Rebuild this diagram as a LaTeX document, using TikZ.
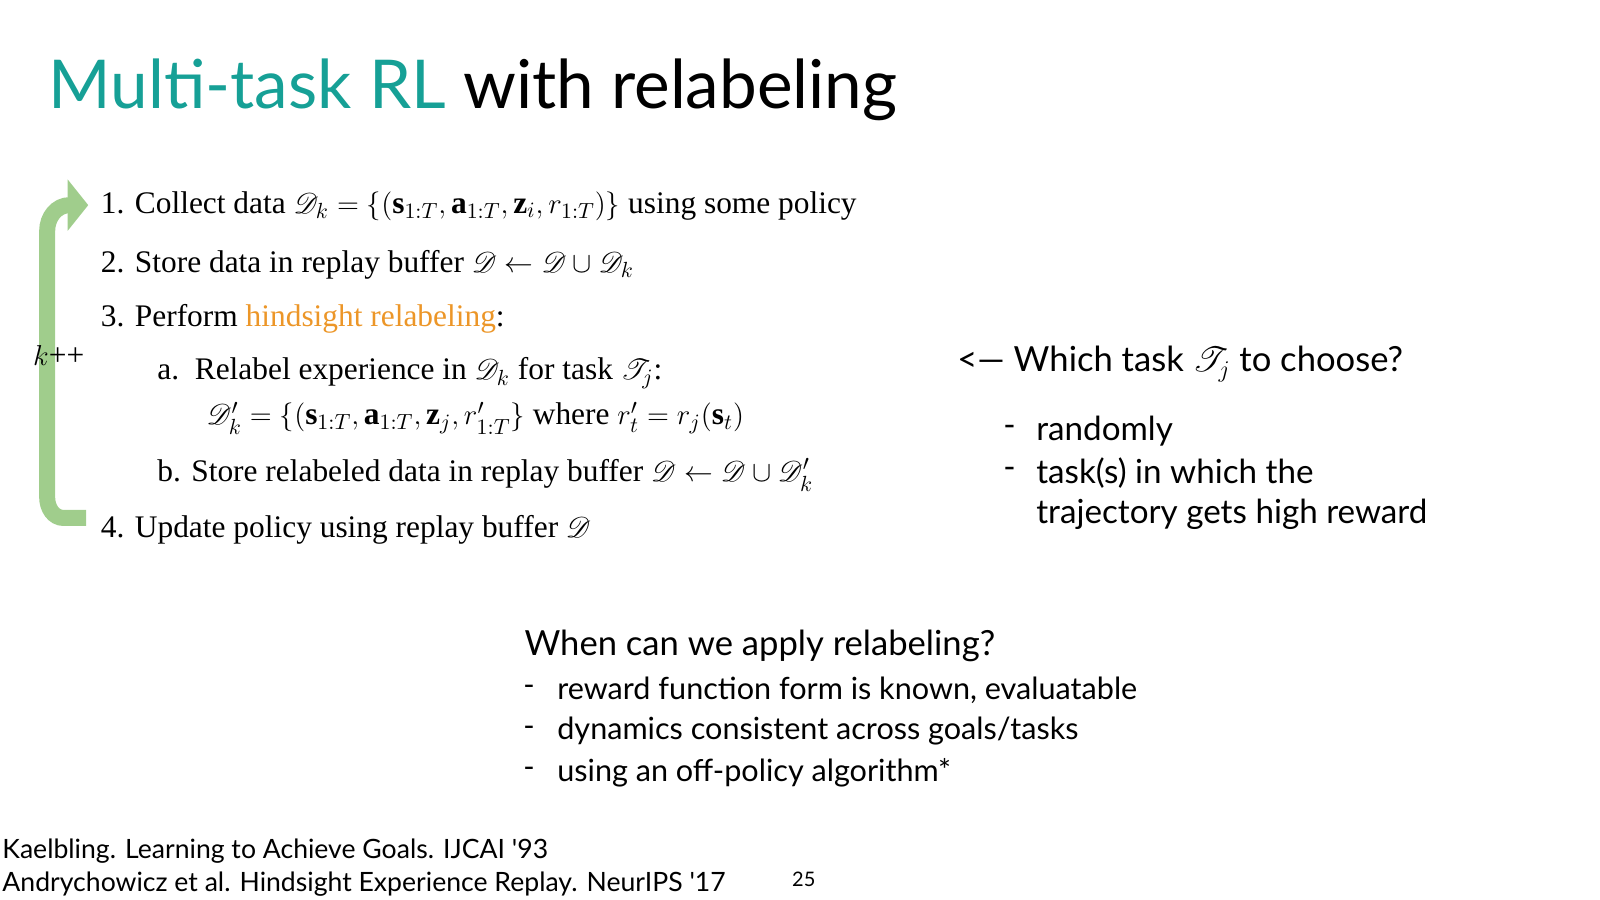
\documentclass[tikz,border=0pt]{standalone}
\usepackage{amsmath,amssymb,mathrsfs}
\usepackage{fontspec}
\setmainfont{Liberation Serif}
\newfontfamily\lato{Lato}
\definecolor{teal1}{RGB}{22,160,150}
\definecolor{orng}{RGB}{236,150,40}
\definecolor{grn}{RGB}{160,205,140}
\tikzset{
 px/.style={x=0.5128pt,y=-0.5128pt},
 body/.style={anchor=west,inner sep=0,font=\fontsize{15.7}{18}\selectfont},
 side/.style={anchor=west,inner sep=0,font=\lato\fontsize{16.6}{20}\selectfont},
 ques/.style={anchor=west,inner sep=0,font=\lato\fontsize{17.3}{20}\selectfont},
 low/.style={anchor=west,inner sep=0,font=\lato\fontsize{15.3}{18}\selectfont},
 foot/.style={anchor=west,inner sep=0,font=\lato\fontsize{13.3}{16}\selectfont}
}
\newcommand{\sD}{\mathscr{D}}
\newcommand{\sT}{\mathscr{T}}
\begin{document}
\begin{tikzpicture}[px]
\useasboundingbox (0,0) rectangle (1560,877.5);
\node[anchor=west,inner sep=0,font=\lato\fontsize{33.7}{38}\selectfont] (title) at (47,88) {\textcolor{teal1}{Multi-task RL} with relabeling};
% green loop arrow
\draw[grn,line width=8pt,line cap=butt] (84,505) -- (62,505) to[out=180,in=-90] (46,485) -- (46,225) to[out=90,in=180] (68,200);
\fill[grn] (66,175) -- (86,200) -- (66,225) -- cycle;
\node[body] (kpp) at (32,347) {$k$++};
\node[body] (s1) at (98,201) {1. Collect data $\sD_k = \{(\mathbf{s}_{1:T}, \mathbf{a}_{1:T}, \mathbf{z}_i, r_{1:T})\}$ using some policy};
\node[body] (s2) at (98,258) {2. Store data in replay buffer $\sD \leftarrow \sD \cup \sD_k$};
\node[body] (s3) at (98,311) {3. Perform \textcolor{orng}{hindsight relabeling}:};
\node[body] (sa) at (153,364) {a.\ \ Relabel experience in $\sD_k$ for task $\sT_j$:};
\node[body] (sa2) at (201,408) {$\sD'_k = \{(\mathbf{s}_{1:T}, \mathbf{a}_{1:T}, \mathbf{z}_j, r'_{1:T}\}$ where $r'_t = r_j(\mathbf{s}_t)$};
\node[body] (sb) at (153,463) {b. Store relabeled data in replay buffer $\sD \leftarrow \sD \cup \sD'_k$};
\node[body] (s4) at (98,517) {4. Update policy using replay buffer $\sD$};
% right side
\node[ques] (q) at (933,355) {<— Which task $\sT_j$ to choose?};
\node[side] (d1) at (978,420) {-};
\node[side] (r1) at (1010,420) {randomly};
\node[side] (d2) at (978,461) {-};
\node[side] (r2) at (1010,461) {task(s) in which the};
\node[side] (r3) at (1010,501) {trajectory gets high reward};
% bottom
\node[ques] (w) at (511,630) {When can we apply relabeling?};
\node[low] (e1) at (510,673) {-};
\node[low] (b1) at (543,673) {reward function form is known, evaluatable};
\node[low] (e2) at (510,713) {-};
\node[low] (b2) at (543,713) {dynamics consistent across goals/tasks};
\node[low] (e3) at (510,753) {-};
\node[low] (b3) at (543,753) {using an off-policy algorithm*};
% footer
\node[foot] (f1) at (2,830) {Kaelbling. Learning to Achieve Goals. IJCAI '93};
\node[foot] (f2) at (2,862) {Andrychowicz et al. Hindsight Experience Replay. NeurIPS '17};
\node[anchor=west,inner sep=0,font=\lato\fontsize{10}{12}\selectfont] (pg) at (772,857) {25};
\end{tikzpicture}
\end{document}
